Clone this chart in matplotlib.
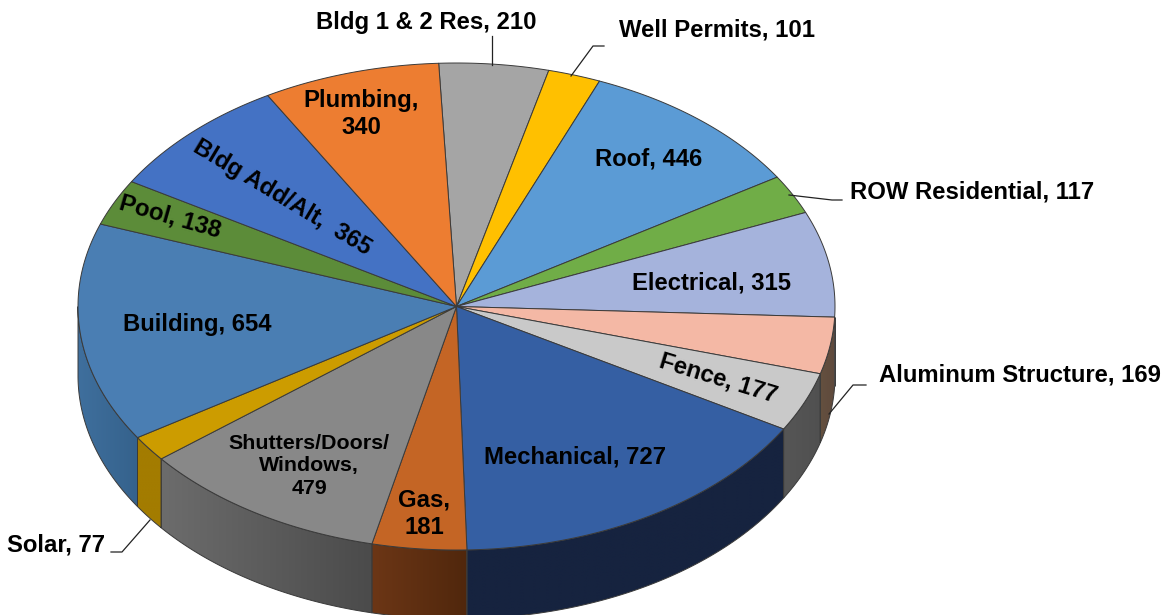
import numpy as np
import matplotlib
matplotlib.use("Agg")
import matplotlib.pyplot as plt
from matplotlib.patches import Polygon
from matplotlib.colors import to_rgb

categories = ["Bldg 1 & 2 Res", "Well Permits", "Roof", "ROW Residential", "Electrical",
              "Aluminum Structure", "Fence", "Mechanical", "Gas", "Shutters/Doors/Windows",
              "Solar", "Building", "Pool", "Bldg Add/Alt", "Plumbing"]
values = [210, 101, 446, 117, 315, 169, 177, 727, 181, 479, 77, 654, 138, 365, 340]

top_colors = ["#A5A5A5", "#FFC000", "#5B9BD5", "#70AD47", "#A5B3DC", "#F4B8A5", "#C9C9C9",
              "#355FA3", "#C46525", "#888888", "#CC9C00", "#4A7EB3", "#5C8C39", "#4472C4", "#ED7D31"]
# side colours: (colour at the wedge's clockwise start, colour at its clockwise end)
side_colors = [("#555555", "#555555"), ("#806000", "#806000"), ("#2E4E6B", "#2E4E6B"),
               ("#385724", "#385724"), ("#6A7390", "#6A7390"), ("#5F4A3D", "#64503F"),
               ("#505050", "#565656"), ("#16233F", "#16233F"), ("#50270C", "#6C3616"),
               ("#4B4B4B", "#6C6C6C"), ("#A37C00", "#A37C00"), ("#35628C", "#3F6F9D"),
               ("#3A5A25", "#3A5A25"), ("#2C4A80", "#2C4A80"), ("#9A5020", "#9A5020")]

CX, CY, RX, RY, DEPTH = 456.5, 306.5, 378.5, 243.5, 69
START = -2.7
SIDE_FROM, SIDE_TO = 92.5, 270
EDGE = "#3A3A3A"
FONT = "Liberation Sans"

fig = plt.figure(figsize=(11.76, 6.15), dpi=100)
ax = fig.add_axes([0, 0, 1, 1])
ax.axis("off")


def pt(deg, dy=0.0):
    r = np.radians(deg)
    return CX + RX * np.sin(r), CY - RY * np.cos(r) + dy


edges = START + np.cumsum([0] + values) / sum(values) * 360.0

# sides (visible between the right-most and left-most point of the ellipse)
for i in range(len(values)):
    a, b = max(edges[i], SIDE_FROM), min(edges[i + 1], SIDE_TO)
    if b <= a:
        continue
    tt = np.linspace(a, b, 100)
    xs, ys = pt(tt)
    verts = np.r_[np.column_stack([xs, ys]), np.column_stack([xs, ys + DEPTH])[::-1]]
    c_start, c_end = np.array(to_rgb(side_colors[i][0])), np.array(to_rgb(side_colors[i][1]))
    f = np.linspace(0, 1, 64)[:, None]
    grad = (c_end + (c_start - c_end) * f)[None, :, :]   # left (clockwise end) to right
    im = ax.imshow(grad, extent=[xs.min(), xs.max(), ys.max() + DEPTH, ys.min()],
                   aspect="auto", interpolation="bilinear", zorder=1)
    poly = Polygon(verts, closed=True, transform=ax.transData, facecolor="none", edgecolor="none")
    ax.add_patch(poly)
    im.set_clip_path(poly)
    ax.add_patch(Polygon(verts, closed=True, facecolor="none", edgecolor=EDGE, lw=0.7, zorder=2))

# top face
for i in range(len(values)):
    th = np.linspace(edges[i], edges[i + 1], 120)
    xs, ys = pt(th)
    verts = np.column_stack([np.r_[CX, xs], np.r_[CY, ys]])
    ax.fill(verts[:, 0], verts[:, 1], facecolor=top_colors[i], edgecolor=EDGE, lw=0.7,
            joinstyle="round", zorder=3)

# leader lines
leaders = [[(492, 36), (492, 65)],
           [(604, 46), (593, 46), (571, 76)],
           [(789, 195), (832, 200), (842, 200)],
           [(866, 385), (853, 385), (829, 414)],
           [(111, 552), (122, 552), (150, 520)]]
for seg in leaders:
    ax.plot(*zip(*seg), color="#222222", lw=0.9, zorder=4)

labels = [("Bldg 1 & 2 Res, 210", 426, 22, 0, 17.2),
          ("Well Permits, 101", 717, 30, 0, 17.2),
          ("ROW Residential, 117", 972, 192, 0, 17.2),
          ("Aluminum Structure, 169", 1020, 375, 0, 17.2),
          ("Solar, 77", 56, 545, 0, 17.2),
          ("Plumbing,\n340", 361, 114, 0, 17.2),
          ("Roof, 446", 649, 159, 0, 17.2),
          ("Electrical, 315", 712, 283, 0, 17.2),
          ("Fence, 177", 718, 378, -17, 17.2),
          ("Mechanical, 727", 575, 457, 0, 17.2),
          ("Gas,\n181", 424, 514, 0, 17.2),
          ("Shutters/Doors/\nWindows,\n479", 309, 466, 0, 15.4),
          ("Building, 654", 197, 324, 0, 17.2),
          ("Pool, 138", 170, 217, -16, 17.2),
          ("Bldg Add/Alt,  365", 282, 198, -31, 17.2)]
for s, x, y, rot, size in labels:
    ax.text(x, y, s, ha="center", va="center", rotation=rot, rotation_mode="anchor",
            fontsize=size, fontweight="bold", family=FONT, color="black",
            linespacing=1.27 if size > 16 else 1.25, zorder=5)

ax.set_xlim(0, 1176)
ax.set_ylim(615, 0)
fig.savefig("out.png", dpi=100, facecolor="white")
